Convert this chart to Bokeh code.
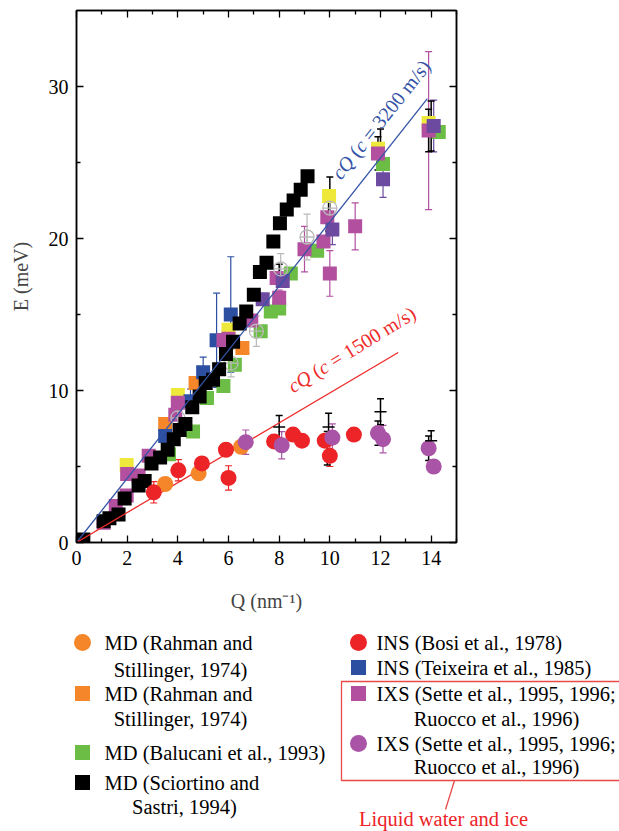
import math
from bokeh.plotting import figure
from bokeh.models import (Range1d, FixedTicker, LinearAxis, Whisker, TeeHead,
                          ColumnDataSource, Label)
from bokeh.layouts import column
from bokeh.embed import file_html
from bokeh.resources import INLINE
from bokeh.core.properties import value

# ---------------- data ----------------
orange_circ_q = [3.5, 4.82, 6.5]
orange_circ_e = [3.85, 4.55, 6.3]

orange_sq_q = [3.5, 4.7, 6.55]
orange_sq_e = [7.8, 10.5, 12.8]

green_q = [3.65, 4.6, 5.15, 5.8, 6.25, 7.27, 7.67, 8.0, 8.46, 9.5, 12.1, 14.3]
green_e = [5.8, 7.3, 9.5, 10.3, 11.7, 13.9, 15.2, 15.4, 17.7, 19.2, 24.9, 27.0]

black_q = [0.27, 1.07, 1.3, 1.66, 1.9, 2.45, 2.69, 2.96, 3.3, 3.6, 3.84, 4.07, 4.3,
           4.57, 4.86, 5.1, 5.39, 5.63, 5.9, 6.18, 6.44, 6.7, 7.0, 7.24, 7.5, 7.77,
           8.03, 8.3, 8.57, 8.85, 9.12]
black_e = [0.2, 1.4, 1.6, 1.85, 2.9, 3.75, 4.05, 5.2, 5.6, 6.1, 6.8, 7.4, 7.8,
           8.9, 9.6, 10.5, 10.7, 11.4, 12.4, 13.2, 14.4, 15.2, 16.3, 17.8, 18.4, 19.8,
           21.0, 21.9, 22.5, 23.2, 24.1]

red_q = [3.05, 4.02, 4.95, 5.9, 6.0, 7.8, 8.55, 8.9, 9.8, 10.0, 10.95]
red_e = [3.3, 4.75, 5.2, 6.1, 4.25, 6.65, 7.1, 6.7, 6.7, 5.7, 7.1]
red_err = [0.7, 0.7, 0, 0, 0.8, 0, 0, 0, 0, 0.7, 0]

blue_q = [3.5, 4.5, 5.0, 5.53, 6.09]
blue_e = [7.0, 9.3, 11.2, 13.3, 15.0]
blue_err = [0.6, 0.8, 1.0, 3.1, 3.8]

mag_sq_q = [1.07, 1.55, 1.98, 2.0, 2.45, 2.85, 3.9, 4.0, 5.8, 6.0, 6.9, 7.9, 8.0,
            9.0, 9.75, 9.9, 10.0, 11.0, 11.9, 13.9]
mag_sq_e = [1.3, 2.4, 3.1, 4.5, 4.4, 5.7, 8.4, 9.2, 13.3, 13.4, 14.6, 17.4, 16.1,
            19.3, 19.8, 21.4, 17.7, 20.8, 25.6, 27.1]
mag_sq_err = [0, 0, 0, 0, 0, 0, 0, 0, 0, 0, 0, 0, 0.5,
              1.5, 0, 0, 1.5, 1.55, 0, 5.2]

violet_sq_q = [7.35, 8.14, 10.1, 12.1, 14.1]
violet_sq_e = [16.0, 17.2, 20.6, 23.9, 27.4]
violet_sq_err = [0, 0, 1.0, 1.2, 1.7]

yellow_q = [1.98, 4.0, 6.0, 9.97, 11.9, 13.9]
yellow_e = [5.1, 9.7, 14.0, 22.8, 25.9, 27.6]

grey_q = [4.0, 6.1, 7.1, 8.06, 9.1, 10.0]
grey_e = [8.2, 11.8, 13.9, 18.0, 20.1, 22.0]
grey_err = [0.5, 0.9, 1.0, 1.0, 1.5, 1.0]

berr_q = [1.98, 4.0, 5.95, 8.0, 9.95, 10.0, 11.9, 12.0, 13.9, 14.0, 9.9, 11.9, 13.9]
berr_e = [5.0, 9.3, 13.5, 17.7, 21.5, 22.9, 25.6, 25.9, 27.1, 27.4, 6.2, 7.2, 6.2]
berr_d = [0.4, 0.5, 0.4, 0.6, 1.0, 1.15, 1.1, 1.3, 1.4, 1.65, 1.1, 0.8, 0.8]

cross_q = [8.0, 9.95, 12.0, 14.0]
cross_e = [7.6, 7.6, 8.6, 6.7]
cross_d = [0.75, 0.9, 0.85, 0.65]

vc_q = [6.68, 8.1, 10.1, 11.9, 12.1, 13.9, 14.1]
vc_e = [6.6, 6.4, 6.9, 7.2, 6.8, 6.2, 5.0]
vc_err = [0.8, 0.9, 0.9, 0, 0.9, 0, 0.4]

fast_q = [0, 13.85]
fast_e = [0, 29.2]
slow_q = [0, 12.7]
slow_e = [0, 12.5]

x_ticks = [0, 2, 4, 6, 8, 10, 12, 14]
x_minor = [1, 3, 5, 7, 9, 11, 13, 15]
y_ticks = [0, 10, 20, 30]
y_minor = [5, 15, 25]

legend_left = ["MD (Rahman and|Stillinger, 1974)",
               "MD (Rahman and|Stillinger, 1974)",
               "MD (Balucani et al., 1993)",
               "MD (Sciortino and|Sastri, 1994)"]
legend_right = ["INS (Bosi et al., 1978)",
                "INS (Teixeira et al., 1985)",
                "IXS (Sette et al., 1995, 1996;|Ruocco et al., 1996)",
                "IXS (Sette et al., 1995, 1996;|Ruocco et al., 1996)"]
box_note = "Liquid water and ice"

# ---------------- styles ----------------
FONT = "Liberation Serif"
ORANGE = "#f5862a"
GREEN = "#6cbd45"
RED = "#ec2327"
BLUE = "#2c4fa2"
MAG = "#b24f9f"
VIOLET_SQ = "#6b4aa0"
VC = "#a954a6"
YELLOW = "#eee83a"
GREY = "#b9b9b9"
LINE_BLUE = "#3453a6"
LINE_RED = "#ee2b2b"
BOX_RED = "#e84a4a"

FL, FR, FT, FB = 76, 456, 10, 542
TOP_H = 620

p = figure(width=619, height=TOP_H, x_range=Range1d(0, 15), y_range=Range1d(0, 35),
           output_backend="svg", toolbar_location=None,
           min_border_left=FL, min_border_right=619 - FR, min_border_top=FT,
           min_border_bottom=TOP_H - FB, x_axis_type=None, y_axis_type=None)
p.frame_align = False
p.grid.visible = False
p.outline_line_color = "black"
p.outline_line_width = 1.5
p.background_fill_color = "white"
p.border_fill_color = "white"


def style_axis(ax, ticks, minor, show_labels):
    ax.ticker = FixedTicker(ticks=ticks, minor_ticks=minor)
    ax.axis_line_color = "black"
    ax.axis_line_width = 1.5
    ax.major_tick_in = 7
    ax.major_tick_out = 0
    ax.minor_tick_in = 4
    ax.minor_tick_out = 0
    ax.major_tick_line_width = 1.3
    ax.minor_tick_line_width = 1.3
    ax.major_label_text_font = FONT
    ax.major_label_text_font_size = "20px"
    ax.major_label_text_color = "black" if show_labels else None
    ax.major_label_standoff = 8


xb = LinearAxis()
style_axis(xb, x_ticks, x_minor, True)
xb.axis_label = "Q (nm\u207b\u00b9)"
xb.axis_label_text_font = FONT
xb.axis_label_text_font_style = "normal"
xb.axis_label_text_font_size = "20px"
xb.axis_label_standoff = 22
p.add_layout(xb, "below")

yl = LinearAxis()
style_axis(yl, y_ticks, y_minor, True)
yl.axis_label = "E (meV)"
yl.axis_label_text_font = FONT
yl.axis_label_text_font_style = "normal"
yl.axis_label_text_font_size = "20px"
yl.axis_label_standoff = 14
p.add_layout(yl, "left")

xt = LinearAxis()
style_axis(xt, x_ticks, x_minor, False)
p.add_layout(xt, "above")

yr = LinearAxis()
style_axis(yr, y_ticks, y_minor, False)
p.add_layout(yr, "right")


def whisk(q, e, d, color, head=7, width=1.2):
    qq = [a for a, b in zip(q, d) if b > 0]
    ee = [a for a, b in zip(e, d) if b > 0]
    dd = [b for b in d if b > 0]
    src = ColumnDataSource(dict(x=qq, lo=[a - b for a, b in zip(ee, dd)],
                                hi=[a + b for a, b in zip(ee, dd)]))
    w = Whisker(base="x", lower="lo", upper="hi", source=src, dimension="height",
                line_color=color, line_width=width,
                upper_head=TeeHead(size=head, line_color=color, line_width=width),
                lower_head=TeeHead(size=head, line_color=color, line_width=width))
    p.add_layout(w)


SQ = 14
CI = 16

whisk(mag_sq_q, mag_sq_e, mag_sq_err, MAG)
whisk(blue_q, blue_e, blue_err, BLUE)
whisk(violet_sq_q, violet_sq_e, violet_sq_err, VIOLET_SQ)
p.scatter(yellow_q, yellow_e, marker="square", size=SQ, fill_color=YELLOW, line_color=None)
p.scatter(green_q, green_e, marker="square", size=SQ, fill_color=GREEN, line_color=None)
p.scatter(orange_sq_q, orange_sq_e, marker="square", size=SQ, fill_color=ORANGE, line_color=None)
p.scatter(blue_q, blue_e, marker="square", size=SQ, fill_color=BLUE, line_color=None)
p.scatter(mag_sq_q, mag_sq_e, marker="square", size=SQ, fill_color=MAG, line_color=None)
p.scatter(violet_sq_q, violet_sq_e, marker="square", size=SQ, fill_color=VIOLET_SQ, line_color=None)
whisk(grey_q, grey_e, grey_err, GREY)
p.scatter(grey_q, grey_e, marker="circle_cross", size=14, fill_color=None,
          line_color=GREY, line_width=1.3)
p.scatter(black_q, black_e, marker="square", size=SQ, fill_color="black", line_color=None)

p.line(fast_q, fast_e, line_color=LINE_BLUE, line_width=1.3)
p.line(slow_q, slow_e, line_color=LINE_RED, line_width=1.3)

whisk(red_q, red_e, red_err, RED)
whisk(vc_q, vc_e, vc_err, VC)
p.scatter(orange_circ_q, orange_circ_e, marker="circle", size=CI, fill_color=ORANGE, line_color=None)
p.scatter(red_q, red_e, marker="circle", size=CI, fill_color=RED, line_color=None)
p.scatter(vc_q, vc_e, marker="circle", size=CI, fill_color=VC, line_color=None)

whisk(berr_q, berr_e, berr_d, "black", width=1.5)
whisk(cross_q, cross_e, cross_d, "black", width=1.5)
p.scatter(cross_q, cross_e, marker="dash", size=12, line_color="black", line_width=1.5)


def dx(px):
    return (px - FL) * 15 / (FR - FL)


def dy(py):
    return (FB - py) * 35 / (FB - FT)


def rot_label(x0, y0, ang, pieces, color, size=20):
    # pieces: (text, italic, advance in px) laid out along a rotated baseline
    a = math.radians(ang)
    off = 0.0
    for txt, ital, adv in pieces:
        sx = x0 + off * math.cos(a)
        sy = y0 - off * math.sin(a)
        p.add_layout(Label(x=dx(sx), y=dy(sy), text=txt, angle=ang, angle_units="deg",
                           text_font=FONT, text_font_size=f"{size}px",
                           text_font_style="italic" if ital else "normal",
                           text_color=color, text_baseline="alphabetic"))
        off += adv


SP = 5.0
rot_label(335, 176, 51.5, [("cQ", True, 23.3 + SP), ("(", False, 6.7), ("c", True, 8.9 + SP),
                           ("= 3200 m/s)", False, 0)], LINE_BLUE)
rot_label(289, 387, 31.5, [("cQ", True, 23.3 + SP), ("(", False, 6.7), ("c", True, 8.9 + SP),
                           ("= 1500 m/s)", False, 0)], LINE_RED)

# ---------------- legend figure ----------------
LEG_H = 831 - TOP_H
lg = figure(width=619, height=LEG_H, x_range=Range1d(0, 619), y_range=Range1d(LEG_H, 0),
            output_backend="svg", toolbar_location=None, min_border=0,
            min_border_left=0, min_border_right=0, min_border_top=0, min_border_bottom=0,
            x_axis_type=None, y_axis_type=None)
lg.frame_align = False
lg.grid.visible = False
lg.outline_line_color = None
LFS = "20.5px"


def ly(py):
    return py - TOP_H


def ltext(px, py, t, align="left", color="black"):
    lg.text([px], [ly(py)], text=[t], text_font=value(FONT), text_font_size=LFS,
            text_align=align, text_baseline="middle", text_color=color)


def lentry(mx, tx, py, py2, label, marker, color, center_off):
    if marker == "circle":
        lg.scatter([mx], [ly(py)], marker="circle", size=17, fill_color=color, line_color=None)
    else:
        lg.scatter([mx], [ly(py)], marker="square", size=15, fill_color=color, line_color=None)
    parts = label.split("|")
    ltext(tx, py, parts[0])
    if len(parts) > 1:
        ltext(tx + center_off, py2, parts[1], "center")


LMX, LTX = 82, 104
RMX, RTX = 358, 376
lentry(LMX, LTX, 642, 669, legend_left[0], "circle", ORANGE, 76)
lentry(LMX, LTX, 693, 718, legend_left[1], "square", ORANGE, 76)
lentry(LMX, LTX, 752, 752, legend_left[2], "square", GREEN, 0)
lentry(LMX, LTX, 782, 806, legend_left[3], "square", "black", 80)
lentry(RMX, RTX, 642, 642, legend_right[0], "circle", RED, 0)
lentry(RMX, RTX, 667, 667, legend_right[1], "square", BLUE, 0)
lentry(RMX, RTX, 693, 718, legend_right[2], "square", MAG, 120)
lentry(RMX, RTX, 743, 766, legend_right[3], "circle", VC, 120)

lg.quad(left=[341], right=[640], top=[ly(681)], bottom=[ly(780)], fill_color=None,
        line_color=BOX_RED, line_width=1.3)
lg.line([454, 445], [ly(780), ly(809)], line_color=BOX_RED, line_width=1.3)
ltext(443, 818, box_note, "center", RED)

layout = column(p, lg, spacing=0)
open("out.html", "w").write(file_html(layout, INLINE))
